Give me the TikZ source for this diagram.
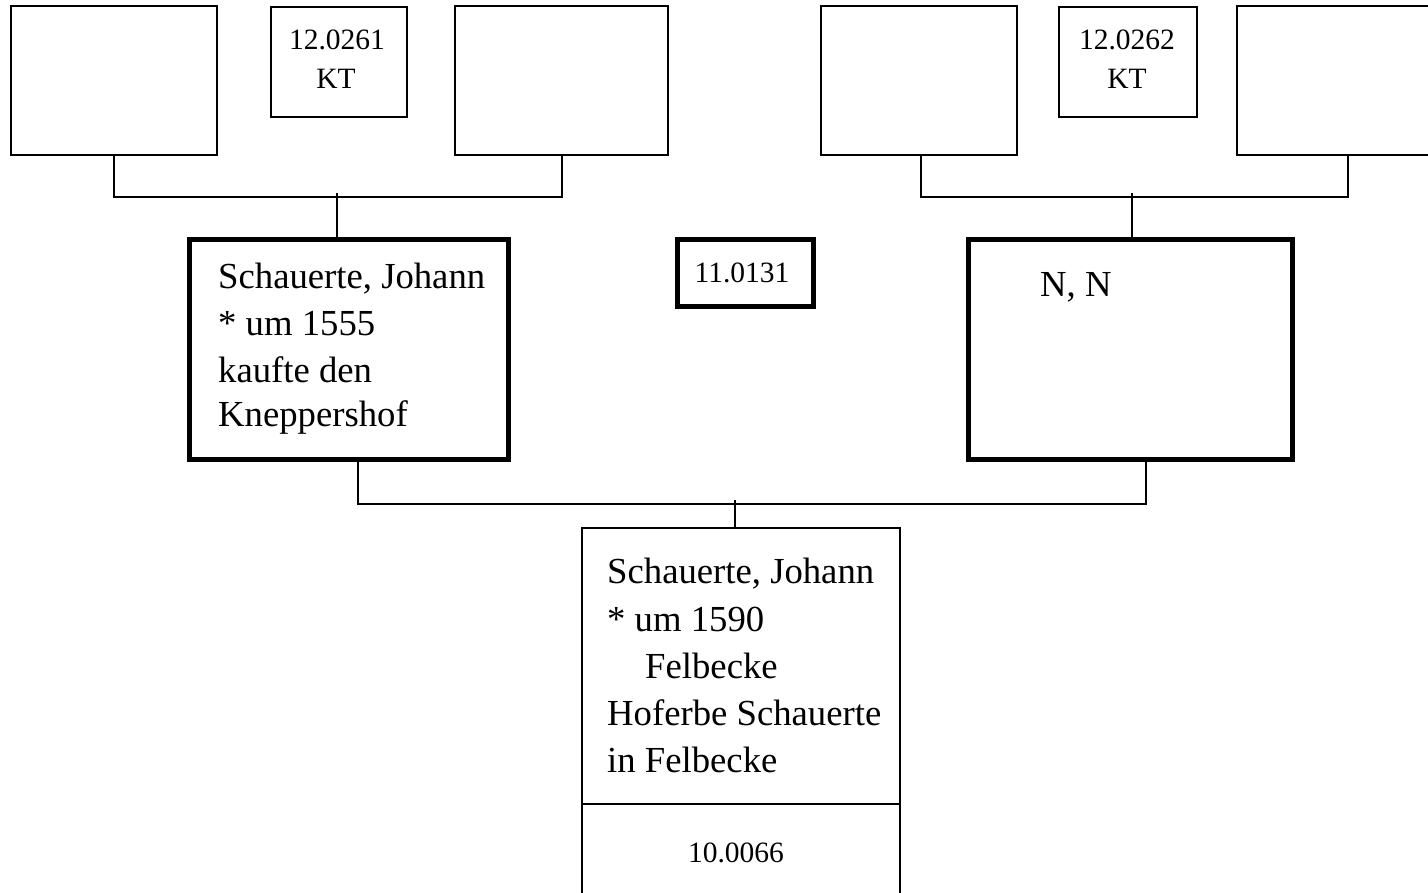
\documentclass[tikz,border=0pt]{standalone}
\usepackage{fontspec}
\setmainfont{Liberation Serif}
\usetikzlibrary{calc}

\tikzset{
  box/.style={draw=black, line width=2pt, rectangle, inner sep=0pt, fill=white},
  bigbox/.style={box, line width=5pt},
  conn/.style={draw=black, line width=2pt},
  bigtxt/.style={inner sep=0pt, font=\fontsize{36.7}{47}\selectfont},
  smalltxt/.style={inner sep=0pt, font=\fontsize{29.5}{39}\selectfont},
}

\begin{document}
\begin{tikzpicture}[x=1pt, y=-1pt]
  \useasboundingbox (0,0) rectangle (1428,893);
  \clip (0,0) rectangle (1428,893);
  \fill[white] (0,0) rectangle (1428,893);

  % generation 12
  \node[box, minimum width=206pt, minimum height=149pt] (A) at (114,80.5) {};
  \node[box, minimum width=136pt, minimum height=110pt] (KTa) at (339,62) {};
  \node[box, minimum width=213pt, minimum height=149pt] (B) at (561.5,80.5) {};
  \node[box, minimum width=196pt, minimum height=149pt] (D) at (919,80.5) {};
  \node[box, minimum width=138pt, minimum height=110pt] (KTb) at (1128,62) {};
  \node[box, minimum width=222pt, minimum height=149pt] (E) at (1348,80.5) {};

  \node[smalltxt, anchor=base] (KTa1) at (337,50) {12.0261};
  \node[smalltxt, anchor=base] (KTa2) at (336,89) {KT};
  \node[smalltxt, anchor=base] (KTb1) at (1127,50) {12.0262};
  \node[smalltxt, anchor=base] (KTb2) at (1127,89) {KT};

  % generation 11
  \node[bigbox, minimum width=319pt, minimum height=219pt] (C) at (348.5,349.5) {};
  \node[bigbox, minimum width=136pt, minimum height=67pt] (N11) at (745,273.5) {};
  \node[bigbox, minimum width=324pt, minimum height=219pt] (F) at (1130,349.5) {};

  \node[bigtxt, anchor=base west] (Ctxt) at (218,289)
    {\begin{tabular}[t]{@{}l@{}}Schauerte, Johann\\{*} um 1555\\kaufte den\\[-3pt]Kneppershof\end{tabular}};
  \node[smalltxt, anchor=base] (N11txt) at (742,283) {11.0131};
  \node[bigtxt, anchor=base west] (Ftxt) at (1040,297) {N, N};

  % generation 10
  \node[box, minimum width=318pt, minimum height=276pt] (G) at (741,666) {};
  \node[box, minimum width=318pt, minimum height=116pt] (Gnum) at (741,862) {};
  \node[bigtxt, anchor=base west] (Gtxt) at (607,583)
    {\begin{tabular}[t]{@{}l@{}}Schauerte, Johann\\[1pt]{*} um 1590\\\hspace*{38pt}Felbecke\\Hoferbe Schauerte\\in Felbecke\end{tabular}};
  \node[smalltxt, anchor=base] (Gnumtxt) at (736,862) {10.0066};

  % attachment points on the boxes
  \coordinate (Ctop) at ($(C.north west)!0.464!(C.north east)$);
  \coordinate (Cbot) at ($(C.south west)!0.53!(C.south east)$);
  \coordinate (Ftop) at ($(F.north west)!0.506!(F.north east)$);
  \coordinate (Fbot) at ($(F.south west)!0.549!(F.south east)$);
  \coordinate (Gtop) at ($(G.north west)!0.481!(G.north east)$);

  % parent connectors
  \draw[conn] (A.south) -- ++(0,41) -| (B.south);
  \draw[conn] (Ctop) -- ++(0,-44);
  \draw[conn] ($(D.south)+(2,0)$) -- ++(0,41) -| (E.south);
  \draw[conn] (Ftop) -- ++(0,-44);
  \draw[conn] (Cbot) -- ++(0,42) -| (Fbot);
  \draw[conn] (Gtop) -- ++(0,-27);
\end{tikzpicture}
\end{document}
